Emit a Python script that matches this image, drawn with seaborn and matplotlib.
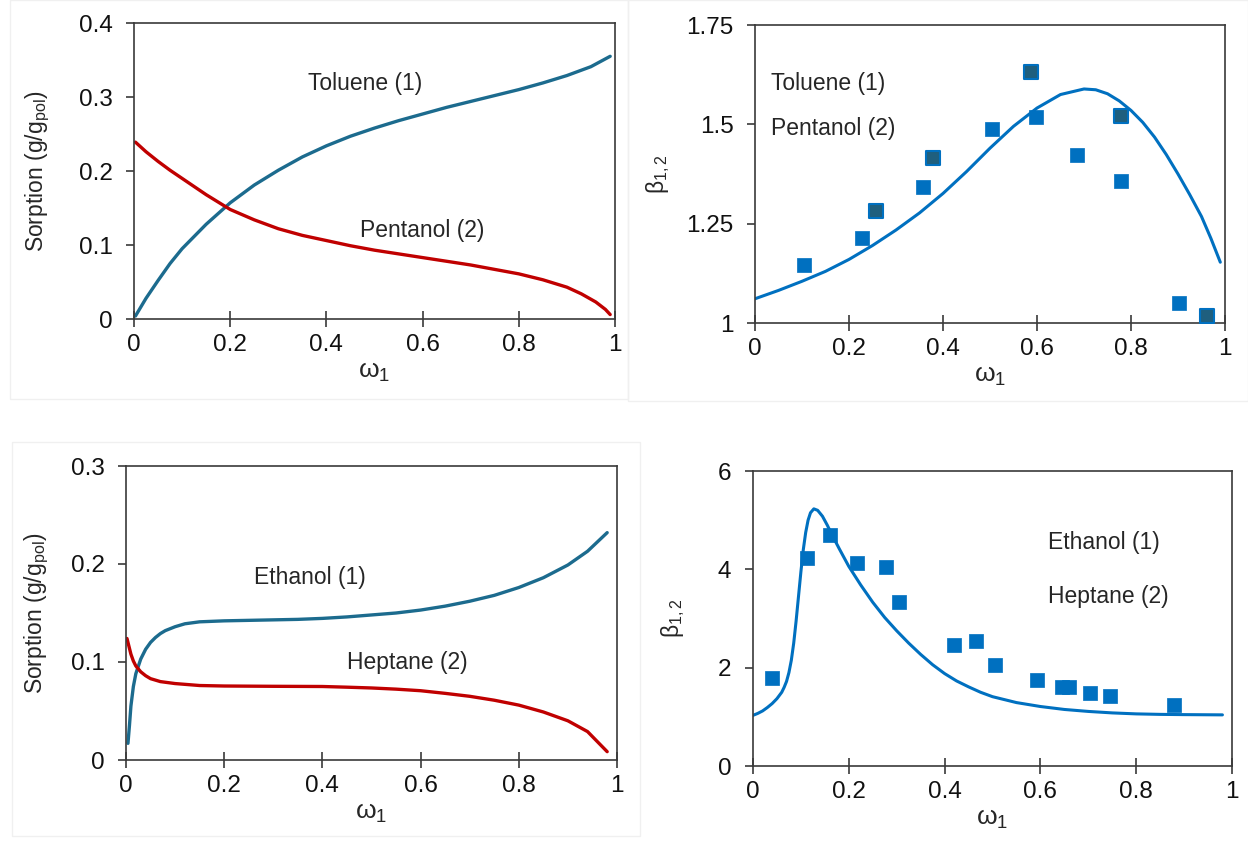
import matplotlib
matplotlib.use("Agg")
import matplotlib.pyplot as plt
import seaborn as sns
from matplotlib.patches import Rectangle

# ---------------- data ----------------
# Panel A: Toluene (1) / Pentanol (2) sorption
tol_w = [0.003, 0.025, 0.05, 0.075, 0.1, 0.15, 0.2, 0.25, 0.3, 0.35, 0.4, 0.45, 0.5, 0.55, 0.6,
         0.65, 0.7, 0.75, 0.8, 0.85, 0.9, 0.95, 0.99]
tol_s = [0.004, 0.028, 0.052, 0.075, 0.095, 0.128, 0.157, 0.181, 0.201, 0.219, 0.234, 0.247, 0.258,
         0.268, 0.277, 0.286, 0.294, 0.302, 0.310, 0.319, 0.329, 0.341, 0.355]
pen_w = [0.003, 0.025, 0.05, 0.075, 0.1, 0.15, 0.2, 0.25, 0.3, 0.35, 0.4, 0.45, 0.5, 0.55, 0.6,
         0.65, 0.7, 0.75, 0.8, 0.85, 0.9, 0.93, 0.96, 0.98, 0.99]
pen_s = [0.239, 0.226, 0.213, 0.201, 0.19, 0.168, 0.148, 0.134, 0.122, 0.113, 0.106, 0.099, 0.093,
         0.088, 0.083, 0.078, 0.073, 0.067, 0.061, 0.053, 0.043, 0.034, 0.023, 0.013, 0.006]

# Panel B: selectivity Toluene/Pentanol
b1_exp_w = [0.104, 0.227, 0.358, 0.505, 0.597, 0.685, 0.778, 0.902]
b1_exp_b = [1.145, 1.213, 1.343, 1.488, 1.518, 1.422, 1.358, 1.05]
b1_exp2_w = [0.258, 0.379, 0.588, 0.778, 0.962]
b1_exp2_b = [1.282, 1.415, 1.632, 1.521, 1.018]
b1_fit_w = [0.0, 0.05, 0.1, 0.15, 0.2, 0.25, 0.3, 0.35, 0.4, 0.45, 0.5, 0.55, 0.6, 0.65, 0.7,
            0.725, 0.75, 0.775, 0.8, 0.825, 0.85, 0.875, 0.9, 0.925, 0.95, 0.97, 0.99]
b1_fit_b = [1.061, 1.082, 1.105, 1.13, 1.16, 1.195, 1.234, 1.277, 1.326, 1.381, 1.44, 1.495,
            1.541, 1.575, 1.589, 1.587, 1.577, 1.559, 1.535, 1.505, 1.468, 1.424, 1.375, 1.323,
            1.268, 1.213, 1.153]

# Panel C: Ethanol (1) / Heptane (2) sorption
eth_w = [0.004, 0.007, 0.01, 0.015, 0.02, 0.03, 0.04, 0.05, 0.06, 0.07, 0.08, 0.1, 0.12, 0.15,
         0.2, 0.25, 0.3, 0.35, 0.4, 0.45, 0.5, 0.55, 0.6, 0.65, 0.7, 0.75, 0.8, 0.85, 0.9, 0.94, 0.98]
eth_s = [0.017, 0.035, 0.055, 0.075, 0.088, 0.103, 0.113, 0.12, 0.125, 0.129, 0.132, 0.136, 0.139,
         0.141, 0.142, 0.1425, 0.143, 0.1435, 0.1445, 0.146, 0.148, 0.150, 0.153, 0.157, 0.162,
         0.168, 0.176, 0.186, 0.199, 0.213, 0.232]
hep_w = [0.002, 0.005, 0.01, 0.015, 0.02, 0.03, 0.04, 0.05, 0.07, 0.1, 0.15, 0.2, 0.3, 0.4, 0.45,
         0.5, 0.55, 0.6, 0.65, 0.7, 0.75, 0.8, 0.85, 0.9, 0.94, 0.98]
hep_s = [0.124, 0.118, 0.108, 0.101, 0.096, 0.09, 0.086, 0.083, 0.08, 0.078, 0.076, 0.0755, 0.0752,
         0.075, 0.0743, 0.0735, 0.0723, 0.0707, 0.068, 0.065, 0.061, 0.056, 0.049, 0.04, 0.029, 0.0085]

# Panel D: selectivity Ethanol/Heptane
b2_exp_w = [0.039, 0.113, 0.161, 0.217, 0.277, 0.304, 0.42, 0.466, 0.506, 0.593, 0.645, 0.66,
            0.703, 0.745, 0.878]
b2_exp_b = [1.786, 4.23, 4.69, 4.12, 4.04, 3.33, 2.47, 2.54, 2.05, 1.75, 1.60, 1.60, 1.48, 1.42, 1.24]
b2_fit_w = [0.0, 0.01, 0.02, 0.03, 0.04, 0.05, 0.06, 0.065, 0.07, 0.075, 0.08, 0.085, 0.09, 0.095,
            0.1, 0.105, 0.11, 0.115, 0.12, 0.127, 0.135, 0.145, 0.155, 0.165, 0.18, 0.2, 0.225,
            0.25, 0.275, 0.3, 0.325, 0.35, 0.375, 0.4, 0.425, 0.45, 0.475, 0.5, 0.55, 0.6, 0.65,
            0.7, 0.75, 0.8, 0.85, 0.9, 0.98]
b2_fit_b = [1.03, 1.07, 1.12, 1.19, 1.27, 1.37, 1.5, 1.6, 1.72, 1.9, 2.15, 2.5, 2.95, 3.45, 3.95,
            4.4, 4.75, 5.0, 5.15, 5.23, 5.2, 5.08, 4.9, 4.7, 4.42, 4.06, 3.68, 3.33, 3.02, 2.75,
            2.5, 2.27, 2.06, 1.88, 1.73, 1.61, 1.5, 1.41, 1.29, 1.21, 1.15, 1.11, 1.08, 1.06,
            1.05, 1.045, 1.04]

x_ticks = [0, 0.2, 0.4, 0.6, 0.8, 1]
x_ticklabels = ["0", "0.2", "0.4", "0.6", "0.8", "1"]

# ---------------- style ----------------
sns.set_theme(style="white")
plt.rcParams["font.family"] = ["Liberation Sans", "DejaVu Sans"]
plt.rcParams["mathtext.fontset"] = "custom"
plt.rcParams["mathtext.rm"] = "Liberation Sans"
plt.rcParams["mathtext.it"] = "Liberation Sans:italic"
plt.rcParams["lines.solid_capstyle"] = "round"
plt.rcParams["lines.solid_joinstyle"] = "round"

TEAL = "#1C6B8E"
RED = "#C00000"
BLUE = "#0070C0"
DARKSQ = "#1F5F7E"
SPINE = "#3A3A3A"
TICK_FS = 17.5
ANN_FS = 16.5
LAB_FS = 16.5

fig = plt.figure(figsize=(12.48, 8.46), dpi=100)

# faint chart-area borders
for (x0, y0, x1, y1) in [(10, 0, 628, 399), (628, 0, 1248, 401), (12, 442, 640, 836)]:
    fig.patches.append(Rectangle((x0 / 1248, 1 - y1 / 846), (x1 - x0) / 1248, (y1 - y0) / 846,
                                 transform=fig.transFigure, fill=False, ec="#F0F0F0", lw=1.0))

def px_axes(l, t, r, b):
    return fig.add_axes([l / 1248, 1 - b / 846, (r - l) / 1248, (b - t) / 846])

axA = px_axes(134, 23, 615, 319)
axB = px_axes(755, 25, 1225, 323)
axC = px_axes(126, 466, 617, 760)
axD = px_axes(753, 471, 1232, 766)

def style(ax, yticks, yticklabels, ylim):
    ax.set_xlim(0, 1)
    ax.set_ylim(*ylim)
    ax.set_xticks(x_ticks)
    ax.set_xticklabels(x_ticklabels)
    ax.set_yticks(yticks)
    ax.set_yticklabels(yticklabels)
    for s in ax.spines.values():
        s.set_visible(True)
        s.set_color(SPINE)
        s.set_linewidth(1.2)
    ax.tick_params(axis="x", direction="inout", length=11, width=1.2, color=SPINE,
                   labelsize=TICK_FS, pad=5, bottom=True, labelcolor="#111111")
    ax.tick_params(axis="y", direction="out", length=5.5, width=1.2, color=SPINE,
                   labelsize=TICK_FS, pad=10, left=True, labelcolor="#111111")
    ax.set_xlabel("ω$_\\mathregular{1}$", fontsize=19, labelpad=3)
    ax.grid(False)
    ax.set_facecolor("white")

# Panel A
sns.lineplot(x=tol_w, y=tol_s, ax=axA, color=TEAL, lw=2.4, sort=False)
sns.lineplot(x=pen_w, y=pen_s, ax=axA, color=RED, lw=2.4, sort=False)
style(axA, [0, 0.1, 0.2, 0.3, 0.4], ["0", "0.1", "0.2", "0.3", "0.4"], (0, 0.4))
axA.set_ylabel("Sorption (g/g$_\\mathregular{pol}$)", fontsize=LAB_FS, labelpad=19)
axA.text(0.48, 0.318, "Toluene (1)", fontsize=ANN_FS, ha="center", va="center")
axA.text(0.60, 0.120, "Pentanol (2)", fontsize=ANN_FS, ha="center", va="center")

# Panel B
sns.lineplot(x=b1_fit_w, y=b1_fit_b, ax=axB, color=BLUE, lw=2.2, sort=False)
sns.scatterplot(x=b1_exp_w, y=b1_exp_b, ax=axB, marker="s", s=90, color=BLUE, edgecolor=BLUE,
                linewidth=0.5, zorder=3)
sns.scatterplot(x=b1_exp2_w, y=b1_exp2_b, ax=axB, marker="s", s=90, color=DARKSQ, edgecolor=BLUE,
                linewidth=1.5, zorder=3)
style(axB, [1, 1.25, 1.5, 1.75], ["1", "1.25", "1.5", "1.75"], (1, 1.75))
axB.set_ylabel("β$_\\mathregular{1,2}$", fontsize=LAB_FS, labelpad=10)
axB.text(0.034, 1.604, "Toluene (1)", fontsize=ANN_FS, ha="left", va="center")
axB.text(0.034, 1.489, "Pentanol (2)", fontsize=ANN_FS, ha="left", va="center")

# Panel C
sns.lineplot(x=eth_w, y=eth_s, ax=axC, color=TEAL, lw=2.4, sort=False)
sns.lineplot(x=hep_w, y=hep_s, ax=axC, color=RED, lw=2.4, sort=False)
style(axC, [0, 0.1, 0.2, 0.3], ["0", "0.1", "0.2", "0.3"], (0, 0.3))
axC.set_ylabel("Sorption (g/g$_\\mathregular{pol}$)", fontsize=LAB_FS, labelpad=14)
axC.text(0.375, 0.186, "Ethanol (1)", fontsize=ANN_FS, ha="center", va="center")
axC.text(0.573, 0.100, "Heptane (2)", fontsize=ANN_FS, ha="center", va="center")

# Panel D
sns.lineplot(x=b2_fit_w, y=b2_fit_b, ax=axD, color=BLUE, lw=2.2, sort=False)
sns.scatterplot(x=b2_exp_w, y=b2_exp_b, ax=axD, marker="s", s=90, color=BLUE, edgecolor=BLUE,
                linewidth=0.5, zorder=3)
style(axD, [0, 2, 4, 6], ["0", "2", "4", "6"], (0, 6))
axD.set_ylabel("β$_\\mathregular{1,2}$", fontsize=LAB_FS, labelpad=22)
axD.text(0.616, 4.55, "Ethanol (1)", fontsize=ANN_FS, ha="left", va="center")
axD.text(0.616, 3.44, "Heptane (2)", fontsize=ANN_FS, ha="left", va="center")

fig.savefig("out.png", dpi=100, facecolor="white")
